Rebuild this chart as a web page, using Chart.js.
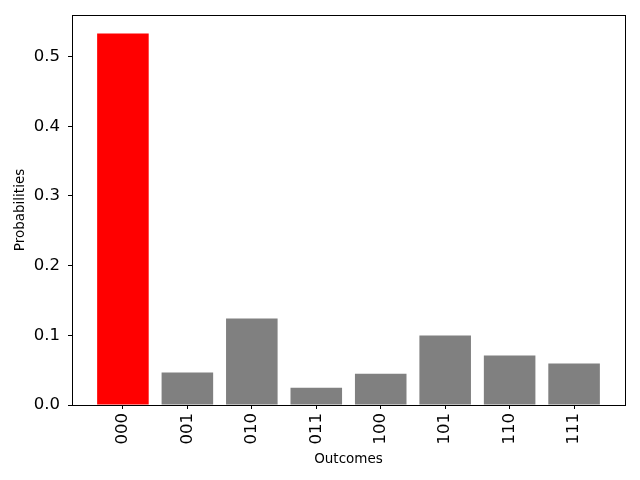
<!DOCTYPE html>
<html><head><meta charset="utf-8">
<script src="https://cdn.jsdelivr.net/npm/chart.js@4"></script>
<style>html,body{margin:0;padding:0;background:#fff}#w{width:640px;height:480px}</style>
</head><body><div id="w"><canvas id="c" width="640" height="480"></canvas></div>
<script>
const outcomes = ["000","001","010","011","100","101","110","111"];
const probabilities = [0.533, 0.0465, 0.124, 0.0249, 0.045, 0.0997, 0.071, 0.0594];
const barColors = ["#ff0000","#808080","#808080","#808080","#808080","#808080","#808080","#808080"];
const yTicks = [0.0, 0.1, 0.2, 0.3, 0.4, 0.5];

const FONT = "'DejaVu Sans', sans-serif";
const frame = {
  id: 'frame',
  afterDraw(chart) {
    const a = chart.chartArea, ctx = chart.ctx;
    ctx.save(); ctx.strokeStyle = '#000'; ctx.lineWidth = 1;
    ctx.strokeRect(Math.round(a.left)+0.5, Math.round(a.top)+0.5, Math.round(a.right-a.left), Math.round(a.bottom-a.top));
    ctx.restore();
  }
};
Chart.defaults.font.family = FONT;
new Chart(document.getElementById('c'), {
  type: 'bar',
  data: {
    datasets: [{
      data: outcomes.map((o, i) => ({x: i, y: probabilities[i]})),
      backgroundColor: barColors,
      borderWidth: 0,
      inflateAmount: 0,
      barPercentage: 1.0,
      categoryPercentage: 0.8
    }]
  },
  plugins: [frame],
  options: {
    responsive: false, animation: false,
    layout: { padding: { top: 15, right: 15, left: 12, bottom: 0 } },
    plugins: { legend: { display: false }, tooltip: { enabled: false } },
    scales: {
      x: {
        type: 'linear', offset: false, min: -0.79, max: outcomes.length - 1 + 0.79,
        afterBuildTicks(s) { s.ticks = outcomes.map((_, i) => ({value: i})); },
        afterFit(s) { s.height = 75; s.paddingLeft = 0; s.paddingRight = 0; },
        grid: { drawOnChartArea: false, drawTicks: true, tickLength: 4, color: '#000', offset: false },
        border: { color: '#000' },
        ticks: { color: '#000', font: { size: 16.5 }, minRotation: 90, maxRotation: 90, autoSkip: false, padding: 4,
                 callback: (v) => outcomes[v] },
        title: { display: true, text: 'Outcomes', color: '#000', font: { size: 13.5 }, padding: { top: 0, bottom: 12 } }
      },
      y: {
        min: 0, max: 0.5596,
        afterBuildTicks(s) { s.ticks = yTicks.map(v => ({value: v})); },
        afterFit(s) { s.width = 60; s.paddingTop = 0; s.paddingBottom = 0; },
        grid: { drawOnChartArea: false, drawTicks: true, tickLength: 4, color: '#000' },
        border: { color: '#000' },
        ticks: { color: '#000', font: { size: 16.5 }, padding: 8, callback: (v) => v.toFixed(1) },
        title: { display: true, text: 'Probabilities', color: '#000', font: { size: 13.5 }, padding: { top: 0, bottom: 6 } }
      }
    }
  }
});
</script></body></html>
